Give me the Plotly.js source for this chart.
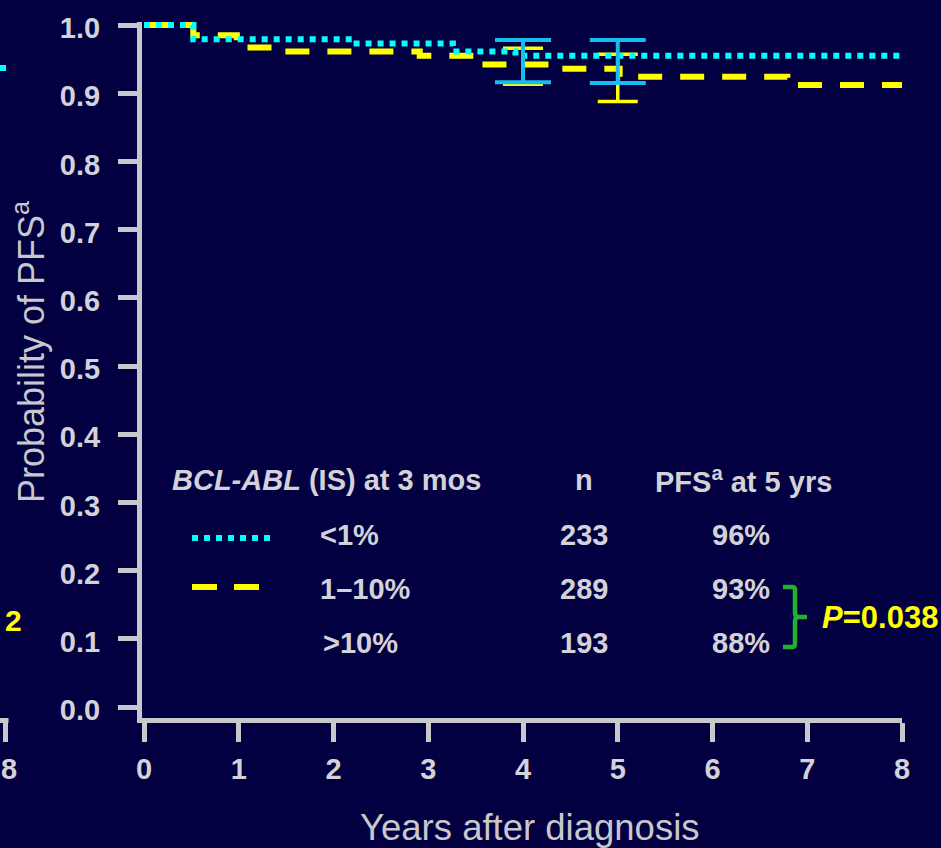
<!DOCTYPE html>
<html>
<head>
<meta charset="utf-8">
<script src="https://cdn.plot.ly/plotly-3.0.1.min.js"></script>
<style>
  html, body { margin: 0; padding: 0; background: #020040; }
  #chart { width: 941px; height: 848px; }
</style>
</head>
<body>
<div id="chart"></div>
<script>
// Kaplan-Meier step curves: progression-free survival by BCL-ABL (IS) at 3 months
const lowYears  = [0, 0.52, 2.20, 3.26, 3.92, 7.98];          // <1%
const lowSurv   = [1.0, 0.979, 0.973, 0.961, 0.955, 0.955];
const midYears  = [0, 0.52, 0.98, 1.46, 2.91, 3.53, 4.37, 5.02, 6.79, 8.0];   // 1–10%
const midSurv   = [1.0, 0.985, 0.967, 0.961, 0.955, 0.942, 0.936, 0.924, 0.912, 0.912];

// 95% confidence intervals at 4 and 5 years
const ciYears   = [4, 5];
const lowEst    = [0.955, 0.955];
const lowLower  = [0.916, 0.915];
const lowUpper  = [0.978, 0.978];
const midEst    = [0.942, 0.930];
const midLower  = [0.913, 0.888];
const midUpper  = [0.966, 0.957];

// Summary table
const groupLabels = ['<1%', '1–10%', '>10%'];
const groupN      = [233, 289, 193];
const pfsAt5      = [96, 93, 88];
const pValue      = '0.038';

const xTicks = [0, 1, 2, 3, 4, 5, 6, 7, 8];
const yTicks = [0, 0.1, 0.2, 0.3, 0.4, 0.5, 0.6, 0.7, 0.8, 0.9, 1.0];

const BG = '#020040';
const AXIS = '#c8c8cc';
const TEXT = '#d2d2d8';
const CYAN = '#00ffff';
const CI_BLUE = '#18bdf0';
const YELLOW = '#ffff00';
const GREEN = '#22b033';
const FONT = 'Liberation Sans, Arial, sans-serif';

const W = 941, H = 848;
const M = { l: 142, r: 39, t: 22, b: 130 };
const PW = W - M.l - M.r, PH = H - M.t - M.b;
// page pixel -> paper fraction
const px = v => (v - M.l) / PW;
const py = v => 1 - (v - M.t) / PH;
const pt = (x, y) => px(x).toFixed(5) + ',' + py(y).toFixed(5);

const traces = [
  {
    x: midYears, y: midSurv, type: 'scatter', mode: 'lines',
    line: { color: YELLOW, width: 6, dash: '24px,18px', shape: 'hv' },
    hoverinfo: 'skip'
  },
  {
    x: ciYears, y: midEst, type: 'scatter', mode: 'markers',
    marker: { size: 1, opacity: 0 },
    error_y: {
      type: 'data', symmetric: false,
      array: midUpper.map((u, i) => u - midEst[i]),
      arrayminus: midLower.map((l, i) => midEst[i] - l),
      color: YELLOW, thickness: 3.5, width: 20
    },
    hoverinfo: 'skip'
  },
  {
    x: lowYears, y: lowSurv, type: 'scatter', mode: 'lines',
    line: { color: CYAN, width: 6, dash: '6px,6px', shape: 'hv' },
    hoverinfo: 'skip'
  },
  {
    x: ciYears, y: lowEst, type: 'scatter', mode: 'markers',
    marker: { size: 1, opacity: 0 },
    error_y: {
      type: 'data', symmetric: false,
      array: lowUpper.map((u, i) => u - lowEst[i]),
      arrayminus: lowLower.map((l, i) => lowEst[i] - l),
      color: CI_BLUE, thickness: 4, width: 28
    },
    hoverinfo: 'skip'
  }
];

const boldFont = (size, color) => ({ family: FONT, size: size, color: color, weight: 'bold' });

const annotations = [];
function label(x, y, text, font, xanchor, extra) {
  annotations.push(Object.assign({
    xref: 'paper', yref: 'paper', x: px(x), y: py(y), text: text,
    showarrow: false, xanchor: xanchor || 'center', yanchor: 'middle', font: font
  }, extra || {}));
}

// table header
label(170, 480, '<i>BCL-ABL</i> (IS) at 3 mos', boldFont(29, TEXT), 'left');
label(584, 480, 'n', boldFont(29, TEXT));
label(653, 480, 'PFS<sup>a</sup> at 5 yrs', boldFont(29, TEXT), 'left');
// table rows
const rowY = [535, 589, 643];
const rowX = [318, 318, 321];
groupLabels.forEach((g, i) => {
  label(rowX[i], rowY[i], g, boldFont(29, TEXT), 'left');
  label(584, rowY[i], String(groupN[i]), boldFont(29, TEXT));
  label(741, rowY[i], pfsAt5[i] + '%', boldFont(29, TEXT));
});
// p-value
label(820, 617, '<i>P</i>=' + pValue, boldFont(31, YELLOW), 'left');

// axis titles
label(29, 352, 'Probability of PFS<sup>a</sup>', { family: FONT, size: 36, color: AXIS }, 'center', { textangle: -90 });
label(530, 828, 'Years after diagnosis', { family: FONT, size: 36.5, color: AXIS });

// edge of the neighbouring panel
label(13, 620, '2', boldFont(30, YELLOW));
label(8.5, 769, '8', boldFont(29, TEXT));

const shapes = [
  // legend keys
  { type: 'line', xref: 'paper', yref: 'paper', x0: px(192), x1: px(270), y0: py(538), y1: py(538),
    line: { color: CYAN, width: 6, dash: '6px,6px' } },
  { type: 'line', xref: 'paper', yref: 'paper', x0: px(192), x1: px(259), y0: py(587), y1: py(587),
    line: { color: YELLOW, width: 6, dash: '25px,17px' } },
  // brace grouping 93% and 88%
  { type: 'path', xref: 'paper', yref: 'paper',
    path: 'M' + pt(783, 587) + ' L' + pt(792, 587) + ' Q' + pt(795, 587) + ' ' + pt(795, 590) +
          ' L' + pt(795, 613) + ' Q' + pt(795, 617) + ' ' + pt(799, 617) + ' L' + pt(807, 617) +
          ' M' + pt(799, 617) + ' Q' + pt(795, 617) + ' ' + pt(795, 621) +
          ' L' + pt(795, 644) + ' Q' + pt(795, 647) + ' ' + pt(792, 647) + ' L' + pt(783, 647),
    line: { color: GREEN, width: 4.5 } },
  // neighbouring panel remnants
  { type: 'rect', xref: 'paper', yref: 'paper', x0: px(-1), x1: px(6), y0: py(65), y1: py(71),
    fillcolor: CYAN, line: { width: 0 } },
  { type: 'line', xref: 'paper', yref: 'paper', x0: px(-2), x1: px(8.5), y0: py(720.5), y1: py(720.5),
    line: { color: AXIS, width: 5 } },
  { type: 'line', xref: 'paper', yref: 'paper', x0: px(5.5), x1: px(5.5), y0: py(720.5), y1: py(742),
    line: { color: AXIS, width: 5 } }
];

const layout = {
  width: W, height: H,
  margin: M,
  paper_bgcolor: BG, plot_bgcolor: BG,
  showlegend: false, hovermode: false,
  xaxis: {
    range: [-0.0211, 8], tickvals: xTicks, ticktext: xTicks.map(String),
    showline: true, linecolor: AXIS, linewidth: 5,
    ticks: 'outside', ticklen: 19, tickwidth: 5, tickcolor: AXIS,
    ticklabelstandoff: 2,
    showgrid: false, zeroline: false,
    tickfont: boldFont(29, TEXT)
  },
  yaxis: {
    range: [-0.0161, 1.0044], tickvals: yTicks, tickformat: '.1f',
    showline: true, linecolor: AXIS, linewidth: 5,
    ticks: 'outside', ticklen: 19, tickwidth: 5, tickcolor: AXIS,
    ticklabelstandoff: 12, ticklabelshift: 3,
    showgrid: false, zeroline: false,
    tickfont: boldFont(29, TEXT)
  },
  annotations: annotations,
  shapes: shapes
};

Plotly.newPlot('chart', traces, layout, { staticPlot: true, displayModeBar: false });
</script>
</body>
</html>
